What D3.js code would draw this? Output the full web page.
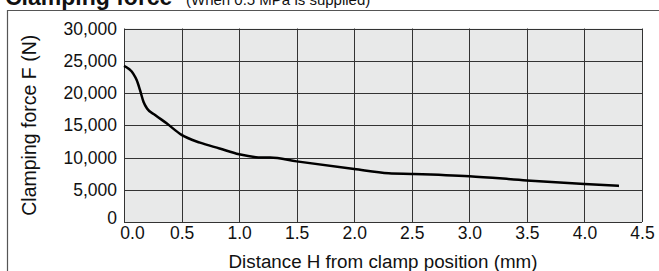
<!DOCTYPE html>
<html>
<head>
<meta charset="utf-8">
<script src="https://cdn.jsdelivr.net/npm/d3@7"></script>
<style>
  body { margin: 0; background: #fff; }
  svg { display: block; font-family: "Liberation Sans", Arial, sans-serif; }
</style>
</head>
<body>
<div id="chart"></div>
<script>
// data
var distance = [0, 0.08, 0.11, 0.14, 0.17, 0.2, 0.27, 0.37, 0.5, 0.66, 0.83, 1.0, 1.2, 1.27, 1.5, 2.0, 2.3, 2.5, 3.0, 3.5, 4.0, 4.3];
var force = [24200, 23000, 22000, 20400, 18600, 17600, 16600, 15300, 13500, 12300, 11400, 10500, 10000, 10000, 9400, 8200, 7550, 7450, 7100, 6450, 5900, 5600];
var xTicks = [0, 0.5, 1.0, 1.5, 2.0, 2.5, 3.0, 3.5, 4.0, 4.5];
var yTicks = [0, 5000, 10000, 15000, 20000, 25000, 30000];

var width = 659, height = 271;
var margin = { top: 28.5, right: 17, bottom: 49, left: 124 };

var svg = d3.select('#chart').append('svg')
    .attr('width', width)
    .attr('height', height);

// outer frame (only top and left visible)
svg.append('path')
    .attr('d', 'M7.5,' + height + 'V10.5H' + width)
    .attr('fill', 'none')
    .attr('stroke', '#555')
    .attr('stroke-width', 1.2);

// title, cut off at the top
svg.append('text')
    .attr('x', 5)
    .attr('y', 4.5)
    .attr('fill', '#111')
    .attr('font-weight', 'bold')
    .attr('font-size', 23)
    .text('Clamping force');
svg.append('text')
    .attr('x', 186)
    .attr('y', 4.5)
    .attr('fill', '#111')
    .attr('font-size', 15)
    .text('(When 0.5 MPa is supplied)');

var x = d3.scaleLinear().domain([0, 4.5]).range([margin.left, width - margin.right]);
var y = d3.scaleLinear().domain([0, 30000]).range([height - margin.bottom, margin.top]);

var g = svg.append('g');

g.append('rect')
    .attr('x', x(0))
    .attr('y', y(30000))
    .attr('width', x(4.5) - x(0))
    .attr('height', y(0) - y(30000))
    .attr('fill', '#e8e9e9');

// grid
g.selectAll('.vgrid').data(xTicks).enter().append('line')
    .attr('class', 'vgrid')
    .attr('x1', function (d) { return Math.round(x(d)) + 0.5; })
    .attr('x2', function (d) { return Math.round(x(d)) + 0.5; })
    .attr('y1', y(0))
    .attr('y2', y(30000))
    .attr('stroke', '#333')
    .attr('stroke-width', 1);

g.selectAll('.hgrid').data(yTicks).enter().append('line')
    .attr('class', 'hgrid')
    .attr('x1', x(0))
    .attr('x2', x(4.5))
    .attr('y1', function (d) { return Math.round(y(d)) + 0.5; })
    .attr('y2', function (d) { return Math.round(y(d)) + 0.5; })
    .attr('stroke', '#333')
    .attr('stroke-width', 1);

// axes
var fmtY = d3.format(',');
var yAxis = d3.axisLeft(y).tickValues(yTicks).tickSize(0).tickPadding(7)
    .tickFormat(function (d) { return fmtY(d); });
var xAxis = d3.axisBottom(x).tickValues(xTicks).tickSize(0).tickPadding(5)
    .tickFormat(d3.format('.1f'));

var ya = svg.append('g')
    .attr('transform', 'translate(' + x(0) + ',0)')
    .call(yAxis);
ya.select('.domain').remove();
ya.selectAll('text')
    .attr('font-size', 17.5)
    .attr('font-family', '"Liberation Sans", Arial, sans-serif')
    .attr('fill', '#111');
ya.selectAll('.tick').filter(function (d) { return d === 0; })
    .select('text').attr('dy', '0.1em');

var xa = svg.append('g')
    .attr('transform', 'translate(0,' + y(0) + ')')
    .call(xAxis);
xa.select('.domain').remove();
xa.selectAll('text')
    .attr('font-size', 17.5)
    .attr('font-family', '"Liberation Sans", Arial, sans-serif')
    .attr('fill', '#111');
xa.selectAll('.tick').filter(function (d) { return d === 0; })
    .select('text').attr('dx', 8);

// curve
var line = d3.line()
    .x(function (d, i) { return x(distance[i]); })
    .y(function (d) { return y(d); })
    .curve(d3.curveMonotoneX);

g.append('path')
    .datum(force)
    .attr('d', line)
    .attr('fill', 'none')
    .attr('stroke', '#000')
    .attr('stroke-width', 2.5)
    .attr('stroke-linejoin', 'round');

// axis titles
svg.append('text')
    .attr('x', (x(0) + x(4.5)) / 2)
    .attr('y', 268)
    .attr('text-anchor', 'middle')
    .attr('font-size', 18.8)
    .attr('fill', '#111')
    .text('Distance H from clamp position (mm)');

svg.append('text')
    .attr('transform', 'translate(36,' + (y(0) + y(30000)) / 2 + ') rotate(-90)')
    .attr('text-anchor', 'middle')
    .attr('font-size', 19.5)
    .attr('fill', '#111')
    .text('Clamping force F (N)');
</script>
</body>
</html>
